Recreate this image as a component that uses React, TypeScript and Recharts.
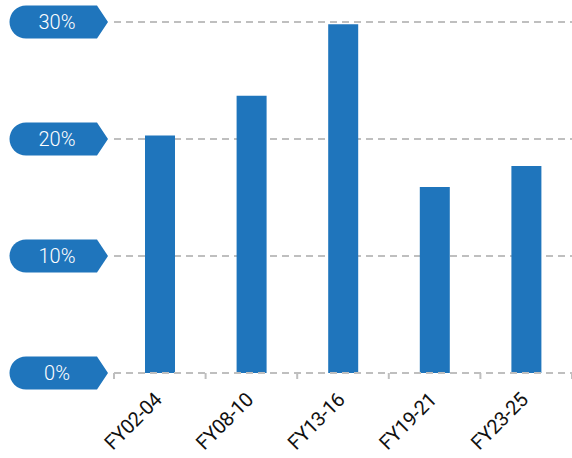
import React from 'react';
import {BarChart, Bar, XAxis, YAxis, CartesianGrid} from 'recharts';

const periods = ['FY02-04', 'FY08-10', 'FY13-16', 'FY19-21', 'FY23-25'];
const shares = [20.3, 23.7, 29.8, 15.9, 17.7];
const yTicks = [0, 10, 20, 30];

const data = periods.map((p, i) => ({period: p, share: shares[i]}));

const BLUE = '#1f75bc';
const GRID = '#bfbfbf';
const FONT = 'Roboto, "DejaVu Sans", sans-serif';
const W = 572;
const H = 458;
const AXIS_W = 114;
const BAND = (W - AXIS_W) / periods.length;

// pill shaped label with a point on the right side
const PillTick = (props: any) => {
    const {y, payload} = props;
    const h = 16.5;
    const d = `M 26 ${y - h} H 97 L 108 ${y} L 97 ${y + h} H 26 A ${h} ${h} 0 0 1 26 ${y - h} Z`;
    return (
        <g>
            <path d={d} fill={BLUE}/>
            <text x={57} y={y} dy={7} textAnchor="middle" fill="#fff" fontSize={20} fontWeight={300}
                  fontFamily={FONT}>
                {payload.value}%
            </text>
        </g>
    );
};

// rotated label, plus tick marks on the band edges
const RotatedTick = (props: any) => {
    const {x, y, payload, index} = props;
    const axisY = 373;
    return (
        <g>
            {index === 0 &&
                <line x1={x - BAND / 2} x2={x - BAND / 2} y1={axisY} y2={axisY + 6} stroke={GRID} strokeWidth={2}/>}
            <line x1={x + BAND / 2} x2={x + BAND / 2} y1={axisY} y2={axisY + 6} stroke={GRID} strokeWidth={2}/>
            <g transform={`translate(${x + 3},${y + 20})`}>
                <text x={0} y={0} textAnchor="end" transform="rotate(-45)" fill="#111"
                      fontSize={20} letterSpacing={-0.4} fontFamily={FONT}>
                    {payload.value}
                </text>
            </g>
        </g>
    );
};

const App = () => {
    return (
        <div style={{position: 'absolute', left: 0, top: 0, width: W, height: H, background: '#fff'}}>
            <BarChart width={W} height={H} data={data} margin={{top: 22, right: 0, bottom: 0, left: 0}}>
                <CartesianGrid vertical={false} stroke={GRID} strokeWidth={2} strokeDasharray="7 5"/>
                <XAxis dataKey="period" height={85} interval={0} tick={<RotatedTick/>}
                       axisLine={{stroke: GRID, strokeWidth: 2, strokeDasharray: '7 5'}}
                       tickLine={false} tickSize={6}/>
                <YAxis domain={[0, 30]} ticks={yTicks} width={AXIS_W} axisLine={false} tickLine={false}
                       tick={<PillTick/>}/>
                <Bar dataKey="share" fill={BLUE} barSize={30} isAnimationActive={false}/>
            </BarChart>
        </div>
    );
};

export default App;
